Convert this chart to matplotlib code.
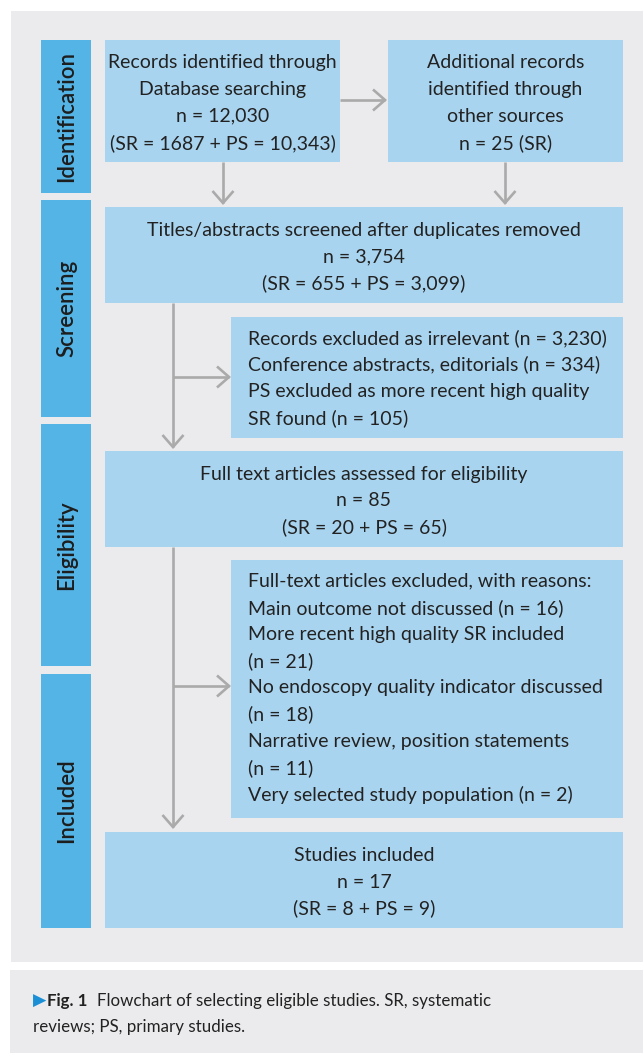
import matplotlib
matplotlib.use("Agg")
import matplotlib.pyplot as plt
from matplotlib.patches import Rectangle

# ---------------- data (texts / counts) ----------------
stages = ["Identification", "Screening", "Eligibility", "Included"]
box_db = ["Records identified through", "Database searching",
          "n = 12,030", "(SR = 1687 + PS = 10,343)"]
box_other = ["Additional records", "identified through",
             "other sources", "n = 25 (SR)"]
box_screen = ["Titles/abstracts screened after duplicates removed",
              "n = 3,754", "(SR = 655 + PS = 3,099)"]
box_excl1 = ["Records excluded as irrelevant (n = 3,230)",
             "Conference abstracts, editorials (n = 334)",
             "PS excluded as more recent high quality",
             "SR found (n = 105)"]
box_full = ["Full text articles assessed for eligibility",
            "n = 85", "(SR = 20 + PS = 65)"]
box_excl2 = ["Full-text articles excluded, with reasons:",
             "Main outcome not discussed (n = 16)",
             "More recent high quality SR included",
             "(n = 21)",
             "No endoscopy quality indicator discussed",
             "(n = 18)",
             "Narrative review, position statements",
             "(n = 11)",
             "Very selected study population (n = 2)"]
box_incl = ["Studies included", "n = 17", "(SR = 8 + PS = 9)"]
caption_bold = "Fig. 1"
caption_l1 = "Flowchart of selecting eligible studies. SR, systematic"
caption_l2 = "reviews; PS, primary studies."

# ---------------- style ----------------
W, H = 643, 1053
PANEL = "#ebebed"
BAR = "#55b4e6"
BOX = "#a9d4ef"
ARROW = "#aaaaaa"
TXT = "#222222"
FONT = "Lato"
FS = 14
CFS = 12.2
LS = 26.7  # line spacing in px
DY = 2     # small downward shift of text

fig = plt.figure(figsize=(W / 100, H / 100), dpi=100)
ax = fig.add_axes([0, 0, 1, 1])
ax.set_xlim(0, W)
ax.set_ylim(H, 0)
ax.axis("off")
fig.patch.set_facecolor("white")


def rect(x0, y0, x1, y1, color):
    ax.add_patch(Rectangle((x0, y0), x1 - x0, y1 - y0, facecolor=color,
                           edgecolor="none", zorder=1))


# panels
rect(11, 11, W, 962, PANEL)
rect(10, 970, W, H, PANEL)

# stage bars
bars = [(40, 193), (200, 417), (424, 666), (674, 928)]
for (y0, y1), lab in zip(bars, stages):
    rect(41, y0, 91, y1, BAR)
    ax.text(67, (y0 + y1) / 2, lab, rotation=90, ha="center", va="center",
            fontsize=16, fontweight="semibold", color="#1d1d1d",
            family=FONT, zorder=3)

# boxes
rect(105, 40, 340, 162, BOX)
rect(388, 40, 623, 162, BOX)
rect(105, 207, 623, 303, BOX)
rect(231, 317, 623, 438, BOX)
rect(105, 451, 623, 547, BOX)
rect(231, 560, 623, 818, BOX)
rect(105, 832, 623, 928, BOX)


def lines(txts, x, yc, ha="center"):
    n = len(txts)
    y0 = yc - (n - 1) * LS / 2 + DY
    for i, t in enumerate(txts):
        ax.text(x, y0 + i * LS, t, ha=ha, va="center", fontsize=FS,
                color=TXT, family=FONT, zorder=3)


lines(box_db, 222.5, 101)
lines(box_other, 505.5, 101)
lines(box_screen, 364, 255)
lines(box_excl1, 248, 376, ha="left")
lines(box_full, 364, 499)
lines(box_excl2, 248, 686, ha="left")
lines(box_incl, 364, 880)

# arrows
LW = 1.9


def seg(x0, y0, x1, y1):
    ax.plot([x0, x1], [y0, y1], color=ARROW, lw=LW, solid_capstyle="butt",
            zorder=2)


def head(x, y, d):
    a, b = 12, 10.5
    if d == "down":
        pts = [(x - b, y - a), (x, y), (x + b, y - a)]
    else:  # right
        pts = [(x - a, y - b), (x, y), (x - a, y + b)]
    ax.plot([p[0] for p in pts], [p[1] for p in pts], color=ARROW, lw=LW,
            solid_joinstyle="miter", solid_capstyle="butt", zorder=2)


seg(340, 100, 385, 100); head(385, 100, "right")
seg(223, 162, 223, 203); head(223, 203, "down")
seg(505, 162, 505, 203); head(505, 203, "down")
seg(173, 303, 173, 447); head(173, 447, "down")
seg(173, 377, 229, 377); head(229, 377, "right")
seg(173, 547, 173, 827); head(173, 827, "down")
seg(173, 686, 229, 686); head(229, 686, "right")

# caption
tri = ax.text(33, 1001, "\u25B6", ha="left", va="center", fontsize=12.5,
              color="#1a8fd6", family=["DejaVu Sans"], zorder=3)
fig.canvas.draw()
r = fig.canvas.get_renderer()
inv = ax.transData.inverted()
bb = tri.get_window_extent(r)
xe = inv.transform((bb.x1, bb.y0))[0]
fb = ax.text(xe + 1, 1001, caption_bold, ha="left", va="center", fontsize=CFS,
             fontweight="bold", color=TXT, family=FONT, zorder=3)
fig.canvas.draw()
bb = fb.get_window_extent(r)
xe = inv.transform((bb.x1, bb.y0))[0]
ax.text(xe + 9, 1001, caption_l1, ha="left", va="center", fontsize=CFS,
        color=TXT, family=FONT, zorder=3)
ax.text(33, 1027, caption_l2, ha="left", va="center", fontsize=CFS,
        color=TXT, family=FONT, zorder=3)

fig.savefig("out.png", dpi=100, facecolor="white")
